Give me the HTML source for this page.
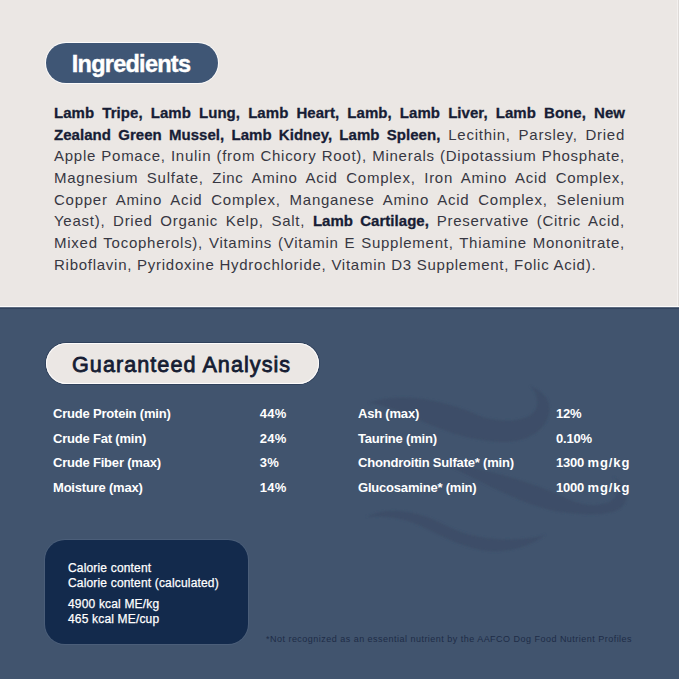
<!DOCTYPE html>
<html><head><meta charset="utf-8">
<style>
*{margin:0;padding:0;box-sizing:border-box}
html,body{width:679px;height:679px;overflow:hidden;background:#41536d;font-family:"Liberation Sans",sans-serif}
#top{position:absolute;left:0;top:0;width:679px;height:307px;background:#ebe7e4}
#bot{position:absolute;left:0;top:307px;width:679px;height:372px;background:#41546e}
.pill{position:absolute;border-radius:22px}
#p1{left:46px;top:43px;width:172px;height:40px;background:#3f5675;box-shadow:0 0 0 1px #fbfafa}
#p2{left:46px;top:343px;width:273px;height:41px;background:#ebe7e4;box-shadow:inset 0 0 0 1px #fdfcfc,0 0 0 1px #30415b}
.pt{position:absolute;white-space:nowrap;line-height:1}
#t1{left:71.8px;top:52.5px;font-size:23.5px;font-weight:bold;color:#fff;letter-spacing:-0.75px;-webkit-text-stroke:0.4px #fff}
#t2{left:72px;top:353.8px;font-size:21.6px;color:#161d33;-webkit-text-stroke:0.8px #161d33;letter-spacing:1.05px}
.ing{position:absolute;left:54px;width:571px;font-size:15px;letter-spacing:0.74px;line-height:1;color:#373742;white-space:nowrap}
.ing.j{text-align:justify;text-align-last:justify;white-space:normal}
.ing b{color:#171d35;letter-spacing:0.05px;-webkit-text-stroke:0.3px #171d35}
.row{position:absolute;font-size:13px;letter-spacing:-0.2px;margin-top:-2px;font-weight:bold;color:#fff;line-height:1;white-space:nowrap}
#cal{position:absolute;left:45px;top:540px;width:203px;height:104px;border-radius:20px;background:#132a4c;box-shadow:0 0 0 1px #4b5e79}
.ct{position:absolute;left:68px;font-size:12px;margin-top:-0.6px;letter-spacing:0.17px;-webkit-text-stroke:0.25px #fff;color:#fff;line-height:1;white-space:nowrap}
#foot{position:absolute;left:266px;top:634.5px;font-size:9px;letter-spacing:0.48px;color:#1e2c47;white-space:nowrap;line-height:1}
</style></head><body>
<div id="top"></div>
<div id="bot"></div>
<div style="position:absolute;left:0;top:306px;width:679px;height:1px;background:#fcfbfa"></div>
<div style="position:absolute;left:0;top:307px;width:679px;height:1px;background:#5d6b80"></div>
<div style="position:absolute;left:0;top:308px;width:679px;height:1px;background:#31435d"></div>
<div style="position:absolute;left:677px;top:0;width:1px;height:306px;background:#f3f0ee"></div>
<div style="position:absolute;left:678px;top:0;width:1px;height:306px;background:#dedad7"></div>
<svg style="position:absolute;left:0;top:0" width="679" height="679" viewBox="0 0 679 679">
<defs><filter id="bl" x="-10%" y="-10%" width="120%" height="120%"><feGaussianBlur stdDeviation="1"/></filter></defs>
<g fill="#3c4e68" filter="url(#bl)">
<path d="M368 403 C400 392 440 398 480 416 C500 423 525 422 534 412 C540 404 537 393 530 386 C545 392 552 402 549 414 C545 432 525 443 500 442 C470 441 440 430 410 416 C395 409 380 404 368 403 Z"/>
<path d="M440 462 C480 468 530 480 570 500 C590 508 610 506 616 496 C620 488 618 480 612 476 C626 484 630 496 624 505 C615 516 590 516 560 512 C520 505 480 480 440 462 Z"/>
<path d="M366 517 C390 505 420 512 445 525 C470 538 500 542 530 538 C538 537 542 536 546 534 C530 548 505 553 486 551 C465 548 445 538 425 528 C405 518 385 515 366 517 Z"/>
</g>
</svg>
<div class="pill" id="p1"></div>
<div class="pt" id="t1">Ingredients</div>
<div class="pill" id="p2"></div>
<div class="pt" id="t2">Guaranteed Analysis</div>

<div class="ing j" style="top:104.8px"><b>Lamb Tripe, Lamb Lung, Lamb Heart, Lamb, Lamb Liver, Lamb Bone, New</b></div>
<div class="ing j" style="top:126.5px"><b>Zealand Green Mussel, Lamb Kidney, Lamb Spleen,</b> Lecithin, Parsley, Dried</div>
<div class="ing j" style="top:148.2px">Apple Pomace, Inulin (from Chicory Root), Minerals (Dipotassium Phosphate,</div>
<div class="ing j" style="top:169.9px">Magnesium Sulfate, Zinc Amino Acid Complex, Iron Amino Acid Complex,</div>
<div class="ing j" style="top:191.6px">Copper Amino Acid Complex, Manganese Amino Acid Complex, Selenium</div>
<div class="ing j" style="top:213.3px">Yeast), Dried Organic Kelp, Salt, <b>Lamb Cartilage,</b> Preservative (Citric Acid,</div>
<div class="ing j" style="top:235.0px">Mixed Tocopherols), Vitamins (Vitamin E Supplement, Thiamine Mononitrate,</div>
<div class="ing" style="top:256.7px">Riboflavin, Pyridoxine Hydrochloride, Vitamin D3 Supplement, Folic Acid).</div>

<div class="row" style="left:53px;top:409px">Crude Protein (min)</div>
<div class="row" style="letter-spacing:0.3px;left:259.8px;top:409px">44%</div>
<div class="row" style="left:53px;top:433.67px">Crude Fat (min)</div>
<div class="row" style="letter-spacing:0.3px;left:259.8px;top:433.67px">24%</div>
<div class="row" style="left:53px;top:458.33px">Crude Fiber (max)</div>
<div class="row" style="letter-spacing:0.3px;left:259.8px;top:458.33px">3%</div>
<div class="row" style="left:53px;top:483px">Moisture (max)</div>
<div class="row" style="letter-spacing:0.3px;left:259.8px;top:483px">14%</div>

<div class="row" style="left:358px;top:409px">Ash (max)</div>
<div class="row" style="left:556px;top:409px">12%</div>
<div class="row" style="left:358px;top:433.67px">Taurine (min)</div>
<div class="row" style="left:556px;top:433.67px">0.10%</div>
<div class="row" style="left:358px;top:458.33px">Chondroitin Sulfate* (min)</div>
<div class="row" style="left:556px;top:458.33px">1300 <span style="letter-spacing:0.9px">mg/kg</span></div>
<div class="row" style="left:358px;top:483px">Glucosamine* (min)</div>
<div class="row" style="left:556px;top:483px">1000 <span style="letter-spacing:0.9px">mg/kg</span></div>

<div id="cal"></div>
<div class="ct" style="top:563px">Calorie content</div>
<div class="ct" style="top:578px">Calorie content (calculated)</div>
<div class="ct" style="top:599px">4900 kcal ME/kg</div>
<div class="ct" style="top:614px">465 kcal ME/cup</div>
<div id="foot">*Not recognized as an essential nutrient by the AAFCO Dog Food Nutrient Profiles</div>
</body></html>
